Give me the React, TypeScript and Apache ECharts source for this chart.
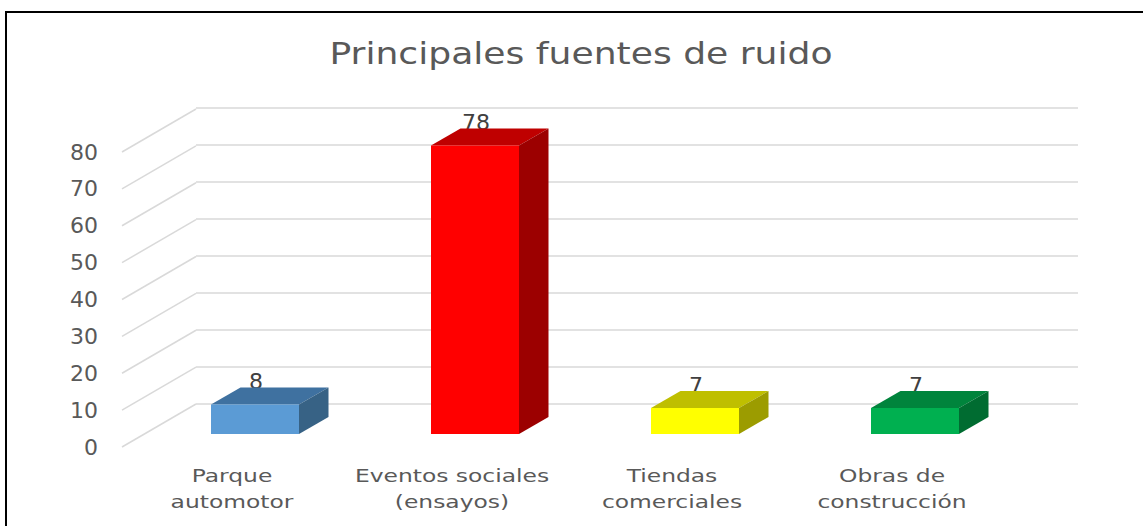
import React, { useEffect, useRef } from "react";
import * as echarts from "echarts";

const titleText = "Principales fuentes de ruido";
const categories = ["Parque\nautomotor", "Eventos sociales\n(ensayos)", "Tiendas\ncomerciales", "Obras de\nconstrucción"];
const values = [8, 78, 7, 7];
const ticks = [0, 10, 20, 30, 40, 50, 60, 70, 80];
const frontColors = ["#5B9BD5", "#FF0000", "#FFFF00", "#00B050"];
const topColors = ["#3F71A0", "#BF0000", "#BFBF00", "#00843C"];
const sideColors = ["#376285", "#9C0000", "#9C9C00", "#006C31"];

const FONT = "DejaVu Sans";
const TEXT = "#595959";
const GRID = "#D9D9D9";

export default function App() {
  const ref = useRef<HTMLDivElement>(null);
  useEffect(() => {
    const chart = echarts.init(ref.current!, undefined, { renderer: "svg" });
    const hiddenX = (gridIndex: number) => ({
      type: "category" as const,
      gridIndex,
      data: categories,
      axisLine: { show: false },
      axisTick: { show: false },
      axisLabel: { show: false },
      splitLine: { show: false },
    });
    const baseY = (gridIndex: number) => ({
      type: "value" as const,
      gridIndex,
      min: 0,
      max: 80,
      interval: 10,
      axisLine: { show: false },
      axisTick: { show: false },
      axisLabel: { show: false },
      splitLine: { show: false },
    });
    chart.setOption({
      animation: false,
      backgroundColor: "#fff",
      graphic: [
        {
          type: "text",
          x: 581,
          y: 54,
          scaleX: 1.204,
          style: {
            text: titleText,
            align: "center",
            verticalAlign: "middle",
            font: `30px "${FONT}"`,
            fill: TEXT,
          },
        },
        { type: "line", shape: { x1: 5, y1: 12, x2: 1143, y2: 12 }, style: { stroke: "#000", lineWidth: 2 }, z: 100 },
        { type: "line", shape: { x1: 6, y1: 11, x2: 6, y2: 526 }, style: { stroke: "#000", lineWidth: 2 }, z: 100 },
      ],
      grid: [
        { left: 122, width: 880, top: 152, height: 295 },
        { left: 196, width: 882, top: 108, height: 296 },
        { left: 145, width: 880, top: 138, height: 296 },
      ],
      xAxis: [hiddenX(0), hiddenX(1), hiddenX(2)],
      yAxis: [
        {
          ...baseY(0),
          axisLabel: { show: true, margin: 24, fontFamily: FONT, fontSize: 22, color: TEXT },
        },
        { ...baseY(1), splitLine: { show: true, lineStyle: { color: GRID, width: 1.5 } } },
        baseY(2),
      ],
      series: [
        {
          type: "custom",
          xAxisIndex: 0,
          yAxisIndex: 0,
          z: 1,
          silent: true,
          data: ticks.map((t) => [0, t]),
          renderItem: (params: any, api: any) => {
            const y = api.coord([0, api.value(1)])[1];
            const x = params.coordSys.x;
            return {
              type: "line",
              shape: { x1: x, y1: y, x2: x + 74, y2: y - 43 },
              style: { stroke: GRID, lineWidth: 1.5, fill: "none" },
            };
          },
        },
        {
          type: "custom",
          xAxisIndex: 0,
          yAxisIndex: 0,
          z: 1,
          silent: true,
          data: categories.map((_c, i) => [i, 0]),
          renderItem: (params: any, api: any) => {
            const p = api.coord([api.value(0), 0]);
            return {
              type: "text",
              x: p[0],
              y: p[1] + 42,
              scaleX: 1.3,
              style: {
                text: categories[params.dataIndex],
                align: "center",
                verticalAlign: "middle",
                font: `18px "${FONT}"`,
                lineHeight: 26,
                fill: TEXT,
              },
            };
          },
        },
        {
          type: "custom",
          xAxisIndex: 2,
          yAxisIndex: 2,
          z: 2,
          silent: true,
          data: values.map((v, i) => [i, v]),
          renderItem: (_params: any, api: any) => {
            const p = api.coord([api.value(0), api.value(1)]);
            return {
              type: "text",
              x: p[0] + 1,
              y: p[1] - 23,
              style: {
                text: String(api.value(1)),
                align: "center",
                verticalAlign: "middle",
                font: `22px "${FONT}"`,
                fill: "#404040",
              },
            };
          },
        },
        {
          type: "custom",
          xAxisIndex: 2,
          yAxisIndex: 2,
          z: 3,
          silent: true,
          data: values.map((v, i) => [i, v]),
          renderItem: (params: any, api: any) => {
            const i = params.dataIndex;
            const top = api.coord([api.value(0), api.value(1)]);
            const base = api.coord([api.value(0), 0]);
            const half = api.size([1, 0])[0] * 0.2;
            const dx = 29.5;
            const dy = -17;
            const l = top[0] - half;
            const r = top[0] + half;
            const t = top[1];
            const b = base[1];
            return {
              type: "group",
              children: [
                {
                  type: "polygon",
                  shape: { points: [[l, t], [r, t], [r + dx, t + dy], [l + dx, t + dy]] },
                  style: { fill: topColors[i] },
                },
                {
                  type: "polygon",
                  shape: { points: [[r, t], [r + dx, t + dy], [r + dx, b + dy], [r, b]] },
                  style: { fill: sideColors[i] },
                },
                {
                  type: "rect",
                  shape: { x: l, y: t, width: r - l, height: b - t },
                  style: { fill: frontColors[i] },
                },
              ],
            };
          },
        },
      ],
    });
    return () => chart.dispose();
  }, []);
  return <div ref={ref} style={{ position: "fixed", left: 0, top: 0, width: 1143, height: 526 }} />;
}
